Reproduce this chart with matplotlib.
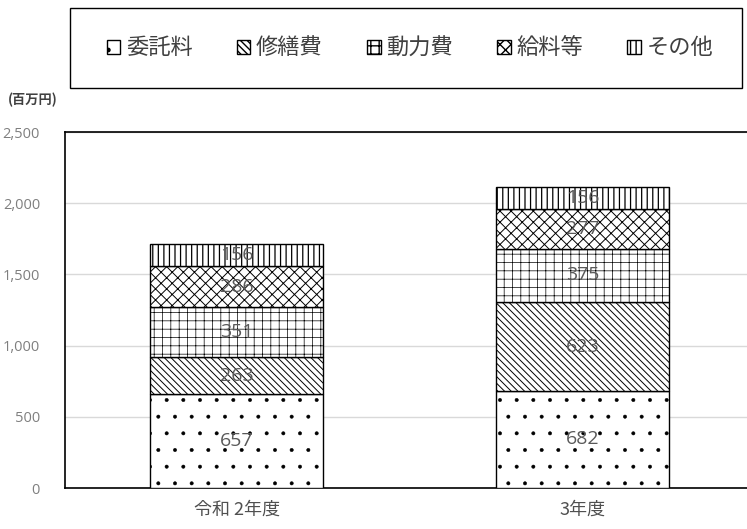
import numpy as np
import matplotlib
matplotlib.use("Agg")
import matplotlib.pyplot as plt
from matplotlib.patches import Rectangle

plt.rcParams['font.family'] = ['Noto Sans CJK JP', 'DejaVu Sans']

# data
years = ["令和 2年度", "3年度"]
labels = ["委託料", "修繕費", "動力費", "給料等", "その他"]
itaku = [657, 682]
shuzen = [263, 623]
douryoku = [351, 375]
kyuryo = [286, 277]
sonota = [156, 156]
series = [itaku, shuzen, douryoku, kyuryo, sonota]
hatches = [".", "\\\\\\\\\\", "++", "xxx", "|||"]
hatch_lw = [0.35, 0.7, 0.5, 0.7, 0.9]

fig = plt.figure(figsize=(7.47, 5.29), dpi=100)
ax = fig.add_axes([65 / 747, 41 / 529, 682 / 747, 356 / 529])

x = np.arange(len(years))
bottom = np.zeros(len(years))
handles = []
num_font = ["Open Sans", "DejaVu Sans"]
for vals, h, hl, lab in zip(series, hatches, hatch_lw, labels):
    with plt.rc_context({"hatch.linewidth": hl}):
        bars = ax.bar(x, vals, 0.5, bottom=bottom, color="white", edgecolor="black",
                      hatch=h, linewidth=1.0, label=lab, zorder=3)
    handles.append(bars)
    for xi, b, v in zip(x, bottom, vals):
        ax.text(xi, b + v / 2, str(v), ha="center", va="center", fontsize=14,
                color="#595959", family=num_font, zorder=4)
    bottom += np.array(vals)

ax.set_xlim(-0.497, 1.474)
ax.set_ylim(0, 2500)
ax.set_yticks(np.arange(0, 2501, 500))
ax.set_yticklabels([f"{v:,}" for v in range(0, 2501, 500)], color="#7f7f7f", fontsize=10.5,
                   family=num_font)
ax.set_xticks(x)
ax.set_xticklabels(years, color="#505050", fontsize=13)
ax.tick_params(axis="y", length=0, pad=18)
ax.tick_params(axis="x", length=0, pad=9)
ax.grid(axis="y", color="#d9d9d9", linewidth=1, zorder=0)
ax.spines["right"].set_visible(False)
for s in ["left", "top", "bottom"]:
    ax.spines[s].set_color("black")
    ax.spines[s].set_linewidth(1.2)

fig.text(8 / 747, 1 - 100 / 529, "(百万円)", fontsize=9.5, fontweight="bold",
         color="#404040", va="center", ha="left")

# legend box
fig.patches.append(Rectangle((70 / 747, 1 - 88 / 529), 672 / 747, 80 / 529,
                             transform=fig.transFigure, facecolor="white",
                             edgecolor="black", linewidth=1.0))
leg = fig.legend(handles=handles, labels=labels, ncol=5, loc="center",
                 bbox_to_anchor=(410 / 747, 1 - 48 / 529), frameon=False,
                 fontsize=16, handlelength=0.6, handleheight=0.6,
                 handletextpad=0.25, columnspacing=2.0)
for t in leg.get_texts():
    t.set_color("#404040")

fig.savefig("out.png", dpi=100)
